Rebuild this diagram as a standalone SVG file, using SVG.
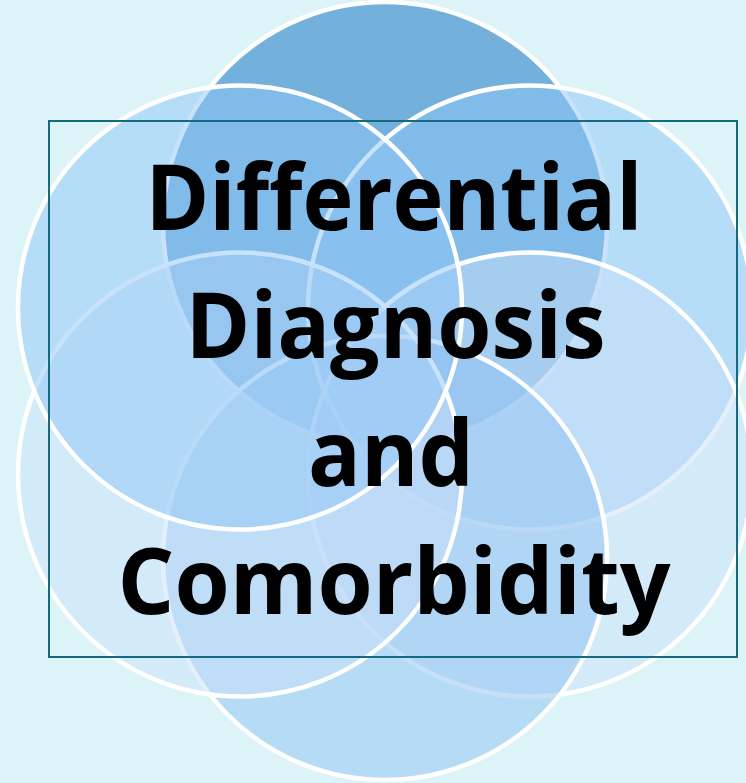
<svg xmlns="http://www.w3.org/2000/svg" width="746" height="783" viewBox="0 0 746 783">
<style>
.c{stroke:#ffffff;stroke-width:4.5;fill-opacity:0.5}
.t{font-family:"Open Sans","Liberation Sans",sans-serif;font-weight:bold;font-size:92px;fill:#000;text-anchor:middle;font-variant-ligatures:none}
</style>
<rect width="746" height="783" fill="#dcf4f8"/>
<g id="circle-top"><circle class="c" cx="385" cy="224" r="222" fill="#0a6cc0"/></g>
<g id="circle-upper-right"><circle class="c" cx="530" cy="307.5" r="222" fill="#90c6f6"/></g>
<g id="circle-lower-right"><circle class="c" cx="530" cy="474.5" r="222" fill="#cae0f8"/></g>
<g id="circle-bottom"><circle class="c" cx="385" cy="558" r="222" fill="#8fc2f2"/></g>
<g id="circle-lower-left"><circle class="c" cx="240" cy="474.5" r="222" fill="#cae0fa"/></g>
<g id="circle-upper-left"><circle class="c" cx="240" cy="307.5" r="222" fill="#90c6f6"/></g>
<g id="title-box">
<rect x="49" y="121" width="688" height="536" fill="none" stroke="#146a80" stroke-width="2"/>
<text class="t" x="394" y="230" textLength="497" lengthAdjust="spacingAndGlyphs">Differential</text>
<text class="t" x="395.5" y="358" textLength="420" lengthAdjust="spacingAndGlyphs">Diagnosis</text>
<text class="t" x="391" y="486" textLength="166" lengthAdjust="spacingAndGlyphs">and</text>
<text class="t" x="394" y="614" textLength="553" lengthAdjust="spacingAndGlyphs">Comorbidity</text>
</g>
</svg>
